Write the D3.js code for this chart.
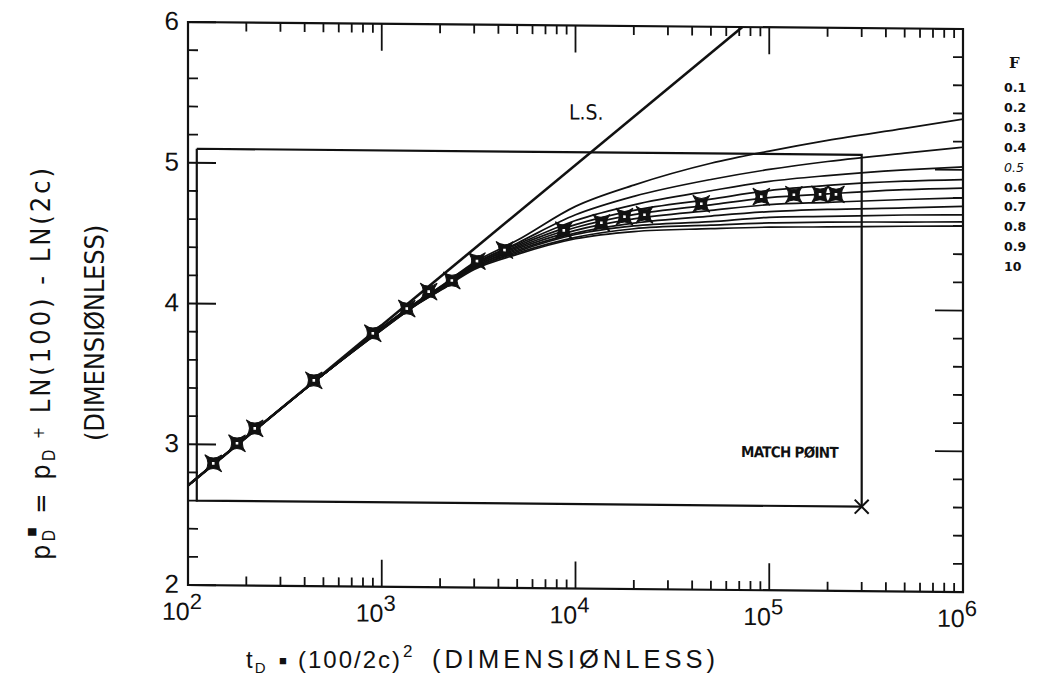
<!DOCTYPE html>
<html><head><meta charset="utf-8">
<script src="https://cdn.jsdelivr.net/npm/d3@7"></script>
<style>
body{margin:0;background:#fff}
svg{display:block}
</style>
</head><body>
<svg id="chart" width="1037" height="687"></svg>
<script>
// Dimensionless time (t_D*(100/2c)^2) at which the type curves are tabulated
const sampleTimes = [100, 500, 1000, 1500, 2000, 3000, 5000, 1e4, 2e4, 5e4, 1e5, 2e5, 5e5, 1e6];

// Type curves p_D* for each F value (top curve first)
const curveF01 = [2.707, 3.505, 3.840, 4.020, 4.135, 4.31, 4.47, 4.715, 4.87, 5.03, 5.12, 5.20, 5.29, 5.36];
const curveF02 = [2.707, 3.505, 3.840, 4.018, 4.132, 4.30, 4.45, 4.655, 4.79, 4.915, 4.99, 5.05, 5.115, 5.16];
const curveF03 = [2.707, 3.505, 3.838, 4.016, 4.129, 4.30, 4.44, 4.615, 4.73, 4.835, 4.905, 4.95, 4.995, 5.02];
const curveF04 = [2.707, 3.505, 3.836, 4.014, 4.126, 4.29, 4.43, 4.585, 4.69, 4.775, 4.84, 4.88, 4.915, 4.93];
const curveF05 = [2.707, 3.505, 3.834, 4.012, 4.123, 4.29, 4.42, 4.565, 4.66, 4.735, 4.79, 4.82, 4.855, 4.87];
const curveF06 = [2.707, 3.505, 3.832, 4.010, 4.120, 4.28, 4.41, 4.545, 4.63, 4.695, 4.74, 4.76, 4.785, 4.80];
const curveF07 = [2.707, 3.505, 3.830, 4.008, 4.117, 4.28, 4.40, 4.525, 4.60, 4.655, 4.69, 4.71, 4.725, 4.74];
const curveF08 = [2.707, 3.505, 3.828, 4.006, 4.114, 4.27, 4.39, 4.515, 4.58, 4.615, 4.65, 4.66, 4.675, 4.68];
const curveF09 = [2.707, 3.505, 3.826, 4.004, 4.111, 4.27, 4.38, 4.495, 4.56, 4.59, 4.61, 4.62, 4.625, 4.63];
const curveF10 = [2.707, 3.505, 3.824, 4.002, 4.108, 4.26, 4.37, 4.485, 4.54, 4.565, 4.58, 4.585, 4.595, 4.60];
const typeCurves = [curveF01, curveF02, curveF03, curveF04, curveF05, curveF06, curveF07, curveF08, curveF09, curveF10];
const legendLabels = ["0.1", "0.2", "0.3", "0.4", "0.5", "0.6", "0.7", "0.8", "0.9", "10"];

// Line-source solution (straight line on semilog axes)
const lineSourceTimes = [100, 1e5];
const lineSourceValues = [2.707, 6.160];

// Field data points
const fieldTimes = [135, 179, 221, 446, 899, 1346, 1747, 2300, 3100, 4300, 8700, 13600, 17900, 22700, 44600, 91000, 134000, 183000, 221000];
const fieldValues = [2.866, 3.010, 3.117, 3.462, 3.800, 3.978, 4.100, 4.180, 4.320, 4.400, 4.544, 4.600, 4.645, 4.660, 4.742, 4.796, 4.812, 4.816, 4.817];

// Overlay frame and match point
const frameTimes = [111, 3.0e5, 3.0e5, 111, 111];
const frameValues = [5.10, 5.10, 2.60, 2.60, 5.10];
const matchTime = 3.0e5;
const matchValue = 2.60;

// Axis ticks
const xDecades = [1e2, 1e3, 1e4, 1e5, 1e6];
const xExponents = ["2", "3", "4", "5", "6"];
const yMajor = [2, 3, 4, 5, 6];

const svg = d3.select("#chart");
const plotLeft = 188, plotRight = 963, plotTop = 22, plotBottom = 585;

const x = d3.scaleLog().domain([1e2, 1e6]).range([plotLeft, plotRight]);
const y = d3.scaleLinear().domain([2, 6]).range([plotBottom, plotTop]);

const xMinor = [];
for (let d = 2; d < 6; d++) for (let m = 2; m <= 9; m++) xMinor.push(m * Math.pow(10, d));
const yMinor = d3.range(2, 6.001, 0.2).filter(v => Math.abs(v - Math.round(v)) > 1e-6);

const ink = "#111";
const narrowFont = "'Liberation Sans Narrow','DejaVu Sans Condensed','Liberation Sans',sans-serif";
const plainFont = "'Liberation Sans','DejaVu Sans',sans-serif";

// Spread a text's letters so that it spans a given length
function fitText(sel, target) {
  const node = sel.node();
  const len = node.getComputedTextLength();
  const n = node.textContent.length;
  sel.attr("letter-spacing", ((target - len) / n).toFixed(2));
}

svg.append("defs").append("clipPath").attr("id", "plotClip")
  .append("rect").attr("x", plotLeft).attr("y", plotTop)
  .attr("width", plotRight - plotLeft).attr("height", plotBottom - plotTop);

// The plotted sheet sits very slightly askew
const sheet = svg.append("g")
  .attr("transform", `translate(${plotLeft},0) skewY(0.52) translate(${-plotLeft},0)`);

// Ticks on all four sides, pointing into the plot
const xLen = d => xDecades.includes(d) ? 27 : 9;
const yLen = d => yMajor.includes(d) ? 28 : 10;
const tickPath = d3.path();
xDecades.concat(xMinor).forEach(d => {
  const px = x(d);
  tickPath.moveTo(px, plotBottom); tickPath.lineTo(px, plotBottom - xLen(d));
  tickPath.moveTo(px, plotTop); tickPath.lineTo(px, plotTop + xLen(d));
});
yMajor.concat(yMinor).forEach(d => {
  const py = y(d);
  tickPath.moveTo(plotLeft, py); tickPath.lineTo(plotLeft + yLen(d), py);
  tickPath.moveTo(plotRight, py); tickPath.lineTo(plotRight - yLen(d), py);
});
sheet.append("path").attr("d", tickPath.toString())
  .attr("fill", "none").attr("stroke", ink).attr("stroke-width", 1.8);

// Plot frame
sheet.append("rect").attr("x", plotLeft).attr("y", plotTop)
  .attr("width", plotRight - plotLeft).attr("height", plotBottom - plotTop)
  .attr("fill", "none").attr("stroke", ink).attr("stroke-width", 2.2);

// Y tick labels
sheet.append("g").selectAll("text").data(yMajor).join("text")
  .attr("x", plotLeft - 9).attr("y", d => y(d) + 8)
  .attr("text-anchor", "end")
  .attr("font-family", plainFont)
  .attr("font-size", 26).attr("fill", ink)
  .text(d => d);

// X tick labels: 10 with superscript exponent
const xl = sheet.append("g").selectAll("text").data(xDecades).join("text")
  .attr("x", d => x(d) - 6).attr("y", plotBottom + 35)
  .attr("text-anchor", "middle")
  .attr("font-family", plainFont)
  .attr("font-size", 25).attr("fill", ink);
xl.append("tspan").text("10");
xl.append("tspan").attr("dy", -11).attr("font-size", 22).text((d, i) => xExponents[i]);

const plot = sheet.append("g").attr("clip-path", "url(#plotClip)");

// Type curves
const curveLine = d3.line()
  .x((d, i) => x(sampleTimes[i]))
  .y(d => y(d))
  .curve(d3.curveMonotoneX);
plot.selectAll("path.type").data(typeCurves).join("path")
  .attr("class", "type")
  .attr("d", curveLine)
  .attr("fill", "none").attr("stroke", ink).attr("stroke-width", 1.7);

// Line source
plot.append("path")
  .attr("d", d3.line().x((d, i) => x(lineSourceTimes[i])).y(d => y(d))(lineSourceValues))
  .attr("fill", "none").attr("stroke", ink).attr("stroke-width", 2.6);

// Overlay frame
plot.append("path")
  .attr("d", d3.line().x((d, i) => x(frameTimes[i])).y(d => y(d))(frameValues))
  .attr("fill", "none").attr("stroke", ink).attr("stroke-width", 2.2);

// Match point cross
const mx = x(matchTime), my = y(matchValue);
sheet.append("path")
  .attr("d", `M${mx - 7},${my - 7}L${mx + 7},${my + 7}M${mx - 7},${my + 7}L${mx + 7},${my - 7}`)
  .attr("stroke", ink).attr("stroke-width", 2);

// Field data markers: four-pointed stars with a hollow centre
const star = "M-8.5,-8.5Q0,-2 8.5,-8.5Q2,0 8.5,8.5Q0,2 -8.5,8.5Q-2,0 -8.5,-8.5Z";
const markers = sheet.append("g").selectAll("g").data(fieldTimes).join("g")
  .attr("transform", (d, i) => `translate(${x(d)},${y(fieldValues[i])})`);
markers.append("path").attr("d", star).attr("fill", ink).attr("stroke", ink).attr("stroke-width", 1);
markers.append("rect").attr("x", -1.3).attr("y", -1.3).attr("width", 2.6).attr("height", 2.6).attr("fill", "#fff");

// Annotations
sheet.append("text").attr("x", 569).attr("y", 116)
  .attr("font-family", narrowFont).attr("font-size", 21).attr("fill", ink).text("L.S.");
const mp = sheet.append("text").attr("x", 741).attr("y", 452)
  .attr("font-family", narrowFont).attr("font-size", 15).attr("font-weight", "bold").attr("fill", ink)
  .text("MATCH PØINT");
fitText(mp, 97);

// X axis title
const titleY = 668;
const xt1 = svg.append("text").attr("x", 246).attr("y", titleY)
  .attr("font-family", plainFont).attr("font-size", 24).attr("fill", ink);
xt1.append("tspan").text("t");
xt1.append("tspan").attr("dy", 5).attr("dx", 2).attr("font-size", 15).text("D");
svg.append("text").attr("x", 279).attr("y", titleY - 3)
  .attr("font-family", plainFont).attr("font-size", 13).attr("fill", ink).text("\u25A0");
const xt2 = svg.append("text").attr("x", 298).attr("y", titleY)
  .attr("font-family", plainFont).attr("font-size", 24).attr("fill", ink).text("(100/2c)");
fitText(xt2, 104);
svg.append("text").attr("x", 403).attr("y", titleY - 11)
  .attr("font-family", plainFont).attr("font-size", 17).attr("fill", ink).text("2");
const xt3 = svg.append("text").attr("x", 432).attr("y", titleY)
  .attr("font-family", plainFont).attr("font-size", 25.5).attr("fill", ink).text("(DIMENSIØNLESS)");
fitText(xt3, 287);

// Y axis title (two rotated lines)
const yt = svg.append("text").attr("transform", "translate(50,560) rotate(-90)")
  .attr("font-family", narrowFont).attr("font-size", 27).attr("fill", ink);
yt.append("tspan").text("p");
yt.append("tspan").attr("dy", 5).attr("font-size", 17).text("D");
yt.append("tspan").attr("dy", -20).attr("dx", -10).attr("font-size", 11).text("\u25A0");
yt.append("tspan").attr("dy", 15).text(" = p");
yt.append("tspan").attr("dy", 5).attr("font-size", 17).text("D");
yt.append("tspan").attr("dy", -11).attr("font-size", 16).text(" +");
yt.append("tspan").attr("dy", 6).text(" LN(100) - LN(2c)");
fitText(yt, 405);

const yt2 = svg.append("text").attr("transform", "translate(104,441) rotate(-90)")
  .attr("font-family", narrowFont).attr("font-size", 27).attr("fill", ink)
  .text("(DIMENSIØNLESS)");
fitText(yt2, 216);

// Legend
svg.append("text").attr("x", 1009).attr("y", 68)
  .attr("font-family", "'DejaVu Serif',serif").attr("font-weight", "bold")
  .attr("font-size", 15).attr("fill", ink).text("F");
svg.append("g").selectAll("text").data(legendLabels).join("text")
  .attr("x", 1004).attr("y", (d, i) => 92 + i * 19.9)
  .attr("font-family", "'DejaVu Sans','Liberation Sans',sans-serif")
  .attr("font-weight", (d, i) => i === 4 ? "normal" : "bold")
  .attr("font-style", (d, i) => i === 4 ? "italic" : "normal")
  .attr("font-size", 12.5).attr("fill", ink)
  .text(d => d);
</script>
</body></html>
